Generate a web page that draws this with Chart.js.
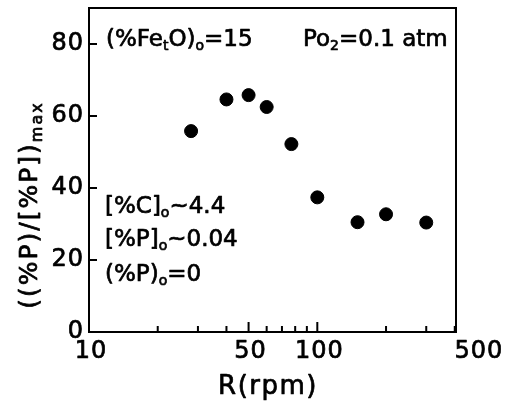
<!DOCTYPE html>
<html>
<head>
<meta charset="utf-8">
<script src="https://cdn.jsdelivr.net/npm/chart.js@4.4.1/dist/chart.umd.min.js"></script>
<style>
	html, body { margin: 0; padding: 0; background: #fff; }
	#wrap { width: 507px; height: 405px; }
</style>
</head>
<body>
<div id="wrap"><canvas id="rpmChart"></canvas></div>
<script>
// stirring speed (rpm) vs. normalised phosphorus distribution
var rpm = [28, 40, 50, 60, 77, 100, 150, 200, 300];
var ratio = [55.8, 64.6, 65.8, 62.5, 52.2, 37.4, 30.5, 32.7, 30.4];

var yTicks = [0, 20, 40, 60, 80];
var xLabels = [10, 50, 100, 500];
var xMinor = [20, 30, 40, 60, 70, 80, 90, 200, 300, 400];

var FONT = '"DejaVu Sans", sans-serif';

// slightly heavier text than the plain font
function text(ctx, s, x, y) {
	ctx.fillText(s, x, y);
	ctx.strokeText(s, x, y);
}

// draw a run of [text, isSub] pieces starting at x, baseline y
function drawRuns(ctx, runs, x, y, size) {
	for (var i = 0; i < runs.length; i++) {
		var sub = runs[i][1];
		ctx.font = (sub ? Math.round(size * 0.62) : size) + 'px ' + FONT;
		text(ctx, runs[i][0], x, sub ? y + size * 0.18 : y);
		x += ctx.measureText(runs[i][0]).width;
	}
	return x;
}
function runsWidth(ctx, runs, size) {
	var w = 0;
	for (var i = 0; i < runs.length; i++) {
		ctx.font = (runs[i][1] ? Math.round(size * 0.62) : size) + 'px ' + FONT;
		w += ctx.measureText(runs[i][0]).width;
	}
	return w;
}

var frame = {
	id: 'frame',
	afterDraw: function (chart) {
		var ctx = chart.ctx;
		var a = chart.chartArea;
		var xs = chart.scales.x, ys = chart.scales.y;
		ctx.save();
		ctx.strokeStyle = '#000';
		ctx.fillStyle = '#000';
		ctx.lineWidth = 2;
		ctx.strokeRect(a.left, a.top, a.right - a.left, a.bottom - a.top);

		// inward ticks
		ctx.beginPath();
		yTicks.forEach(function (v) {
			var py = ys.getPixelForValue(v);
			ctx.moveTo(a.left, py); ctx.lineTo(a.left + 8, py);
		});
		xLabels.concat(xMinor).forEach(function (v) {
			if (v >= xs.max) return;
			var px = xs.getPixelForValue(v);
			var len = xLabels.indexOf(v) >= 0 ? 10 : 6;
			ctx.moveTo(px, a.bottom); ctx.lineTo(px, a.bottom - len);
		});
		ctx.stroke();

		ctx.lineWidth = 0.7;
		ctx.lineJoin = 'round';

		// tick labels
		ctx.font = '24px ' + FONT;
		ctx.letterSpacing = '1px';
		ctx.textAlign = 'right';
		ctx.textBaseline = 'middle';
		yTicks.forEach(function (v) {
			text(ctx, String(v), a.left - 5, ys.getPixelForValue(v));
		});
		ctx.textAlign = 'center';
		ctx.textBaseline = 'top';
		xLabels.forEach(function (v) {
			text(ctx, String(v), xs.getPixelForValue(v) + 2, a.bottom + 8);
		});

		// axis titles
		ctx.font = '26px ' + FONT;
		ctx.letterSpacing = '1.5px';
		ctx.textBaseline = 'alphabetic';
		text(ctx, 'R(rpm)', 268, 394);

		ctx.textAlign = 'left';
		ctx.letterSpacing = '2px';
		var yTitle = [['((%P)/[%P])', false], ['max', true]];
		var w = runsWidth(ctx, yTitle, 25);
		ctx.save();
		ctx.translate(37, 205);
		ctx.rotate(-Math.PI / 2);
		drawRuns(ctx, yTitle, -w / 2, 0, 25);
		ctx.restore();

		// conditions
		ctx.letterSpacing = '0px';
		drawRuns(ctx, [['(%Fe', false], ['t', true], ['O)', false], ['o', true], ['=15', false]], 106, 46, 23);
		drawRuns(ctx, [['Po', false], ['2', true], ['=0.1 atm', false]], 303, 46, 23);
		drawRuns(ctx, [['[%C]', false], ['o', true], ['~4.4', false]], 105, 213, 23);
		drawRuns(ctx, [['[%P]', false], ['o', true], ['~0.04', false]], 105, 246, 23);
		drawRuns(ctx, [['(%P)', false], ['o', true], ['=0', false]], 105, 281, 23);
		ctx.restore();
	}
};

var points = [];
for (var i = 0; i < rpm.length; i++) {
	points.push({ x: rpm[i], y: ratio[i] });
}

new Chart(document.getElementById('rpmChart'), {
	type: 'scatter',
	data: {
		datasets: [{
			data: points,
			backgroundColor: '#000',
			borderColor: '#000',
			pointRadius: 6.5,
			pointHoverRadius: 6.5
		}]
	},
	options: {
		responsive: true,
		maintainAspectRatio: false,
		animation: false,
		layout: { padding: { top: 8, right: 51, left: 0, bottom: 0 } },
		plugins: { legend: { display: false }, tooltip: { enabled: false } },
		scales: {
			x: {
				type: 'logarithmic',
				min: 10,
				max: 405,
				grid: { display: false },
				border: { display: false },
				ticks: { display: false },
				afterFit: function (scale) { scale.height = 73; }
			},
			y: {
				min: 0,
				max: 90,
				grid: { display: false },
				border: { display: false },
				ticks: { display: false },
				afterFit: function (scale) { scale.width = 89; }
			}
		}
	},
	plugins: [frame]
});
</script>
</body>
</html>
